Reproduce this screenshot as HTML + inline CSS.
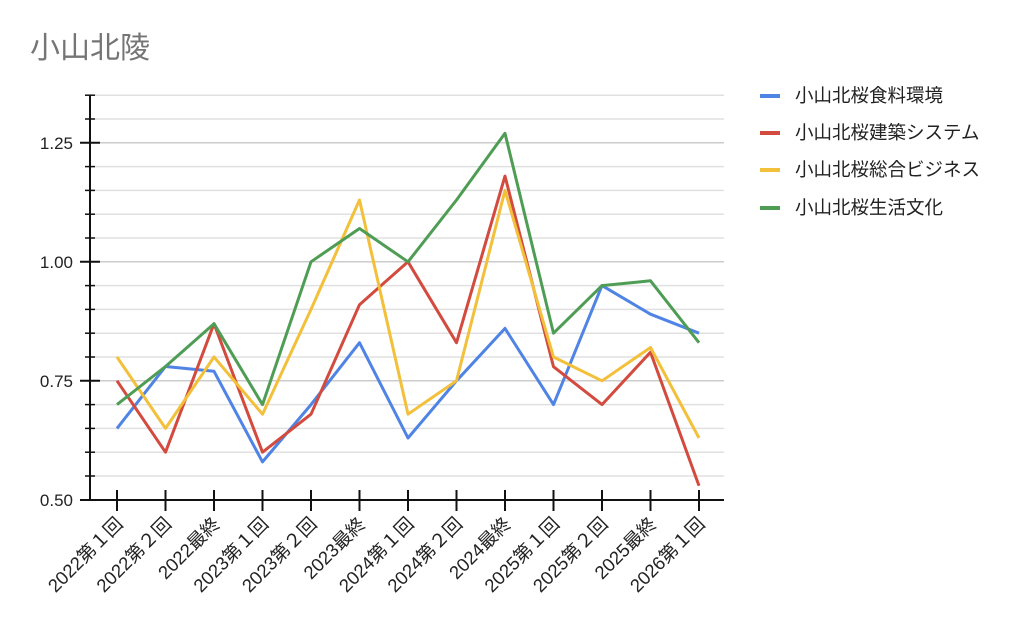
<!DOCTYPE html>
<html><head><meta charset="utf-8"><style>
html,body{margin:0;padding:0;background:#fff;}
svg{display:block;font-family:"Liberation Sans","Noto Sans CJK JP",sans-serif;}
</style></head><body>
<svg width="1024" height="626" viewBox="0 0 1024 626">
<text x="30" y="58" font-size="30" fill="#757575">小山北陵</text>
<g stroke="#e0e0e0" stroke-width="1.5">
<line x1="90" x2="724" y1="95.2" y2="95.2"/><line x1="90" x2="724" y1="119" y2="119"/>
<line x1="90" x2="724" y1="142.8" y2="142.8" stroke="#ccc"/><line x1="90" x2="724" y1="166.6" y2="166.6"/>
<line x1="90" x2="724" y1="190.4" y2="190.4"/><line x1="90" x2="724" y1="214.2" y2="214.2"/>
<line x1="90" x2="724" y1="238" y2="238"/><line x1="90" x2="724" y1="261.8" y2="261.8" stroke="#ccc"/>
<line x1="90" x2="724" y1="285.6" y2="285.6"/><line x1="90" x2="724" y1="309.4" y2="309.4"/>
<line x1="90" x2="724" y1="333.2" y2="333.2"/><line x1="90" x2="724" y1="357" y2="357"/>
<line x1="90" x2="724" y1="380.8" y2="380.8" stroke="#ccc"/><line x1="90" x2="724" y1="404.6" y2="404.6"/>
<line x1="90" x2="724" y1="428.4" y2="428.4"/><line x1="90" x2="724" y1="452.2" y2="452.2"/>
<line x1="90" x2="724" y1="476" y2="476"/>
</g>
<g stroke="#111" stroke-width="2">
<line x1="90" y1="95" x2="90" y2="501"/><line x1="89" y1="500" x2="724" y2="500"/>
<line x1="80" x2="100" y1="142.8" y2="142.8"/><line x1="80" x2="100" y1="261.8" y2="261.8"/><line x1="80" x2="100" y1="380.8" y2="380.8"/><line x1="80" x2="100" y1="500" y2="500"/>
<g stroke-width="1.5">
<line x1="85" x2="95" y1="95.2" y2="95.2"/><line x1="85" x2="95" y1="119" y2="119"/><line x1="85" x2="95" y1="166.6" y2="166.6"/><line x1="85" x2="95" y1="190.4" y2="190.4"/><line x1="85" x2="95" y1="214.2" y2="214.2"/><line x1="85" x2="95" y1="238" y2="238"/><line x1="85" x2="95" y1="285.6" y2="285.6"/><line x1="85" x2="95" y1="309.4" y2="309.4"/><line x1="85" x2="95" y1="333.2" y2="333.2"/><line x1="85" x2="95" y1="357" y2="357"/><line x1="85" x2="95" y1="404.6" y2="404.6"/><line x1="85" x2="95" y1="428.4" y2="428.4"/><line x1="85" x2="95" y1="452.2" y2="452.2"/><line x1="85" x2="95" y1="476" y2="476"/>
</g>
<line x1="117" x2="117" y1="490" y2="511"/><line x1="165.5" x2="165.5" y1="490" y2="511"/><line x1="214" x2="214" y1="490" y2="511"/><line x1="262.5" x2="262.5" y1="490" y2="511"/><line x1="311" x2="311" y1="490" y2="511"/><line x1="359.5" x2="359.5" y1="490" y2="511"/><line x1="408" x2="408" y1="490" y2="511"/><line x1="456.5" x2="456.5" y1="490" y2="511"/><line x1="505" x2="505" y1="490" y2="511"/><line x1="553.5" x2="553.5" y1="490" y2="511"/><line x1="602" x2="602" y1="490" y2="511"/><line x1="650.5" x2="650.5" y1="490" y2="511"/><line x1="699" x2="699" y1="490" y2="511"/>
</g>
<g font-size="17" fill="#222" text-anchor="end">
<text x="73" y="149">1.25</text><text x="73" y="268">1.00</text><text x="73" y="387">0.75</text><text x="73" y="506">0.50</text>
</g>
<g font-size="18.5" fill="#222" text-anchor="end">
<text transform="translate(124,525) rotate(-45)">2022第１回</text>
<text transform="translate(172.5,525) rotate(-45)">2022第２回</text>
<text transform="translate(221,525) rotate(-45)">2022最終</text>
<text transform="translate(269.5,525) rotate(-45)">2023第１回</text>
<text transform="translate(318,525) rotate(-45)">2023第２回</text>
<text transform="translate(366.5,525) rotate(-45)">2023最終</text>
<text transform="translate(415,525) rotate(-45)">2024第１回</text>
<text transform="translate(463.5,525) rotate(-45)">2024第２回</text>
<text transform="translate(512,525) rotate(-45)">2024最終</text>
<text transform="translate(560.5,525) rotate(-45)">2025第１回</text>
<text transform="translate(609,525) rotate(-45)">2025第２回</text>
<text transform="translate(657.5,525) rotate(-45)">2025最終</text>
<text transform="translate(706,525) rotate(-45)">2026第１回</text>
</g>
<g fill="none" stroke-width="3" stroke-linejoin="round">
<polyline stroke="#4f84e5" points="117,428.4 165.5,366.5 214,371.3 262.5,461.9 311,404.6 359.5,342.7 408,438 456.5,380.8 505,328.4 553.5,404.6 602,285.6 650.5,314.2 699,333.2"/>
<polyline stroke="#d34b3e" points="117,380.8 165.5,452.2 214,323.7 262.5,452.2 311,414.2 359.5,304.7 408,261.8 456.5,342.7 505,176.1 553.5,366.7 602,404.6 650.5,352.2 699,485.7"/>
<polyline stroke="#f2c03a" points="117,357 165.5,428.4 214,357 262.5,414.2 311,309.4 359.5,200 408,414.2 456.5,380.8 505,190.4 553.5,357 602,380.8 650.5,347.5 699,438"/>
<polyline stroke="#4f9d55" points="117,404.6 165.5,366.5 214,323.7 262.5,404.6 311,261.8 359.5,228.5 408,261.8 456.5,200 505,133.3 553.5,333.2 602,285.6 650.5,280.8 699,342.7"/>
</g>
<g stroke-width="4">
<line x1="760" x2="780" y1="96" y2="96" stroke="#4f84e5"/>
<line x1="760" x2="780" y1="133" y2="133" stroke="#d34b3e"/>
<line x1="760" x2="780" y1="170" y2="170" stroke="#f2c03a"/>
<line x1="760" x2="780" y1="208" y2="208" stroke="#4f9d55"/>
</g>
<g font-size="18.5" fill="#222">
<text x="795" y="102">小山北桜食料環境</text>
<text x="795" y="139">小山北桜建築システム</text>
<text x="795" y="176">小山北桜総合ビジネス</text>
<text x="795" y="214">小山北桜生活文化</text>
</g>
</svg>
</body></html>
